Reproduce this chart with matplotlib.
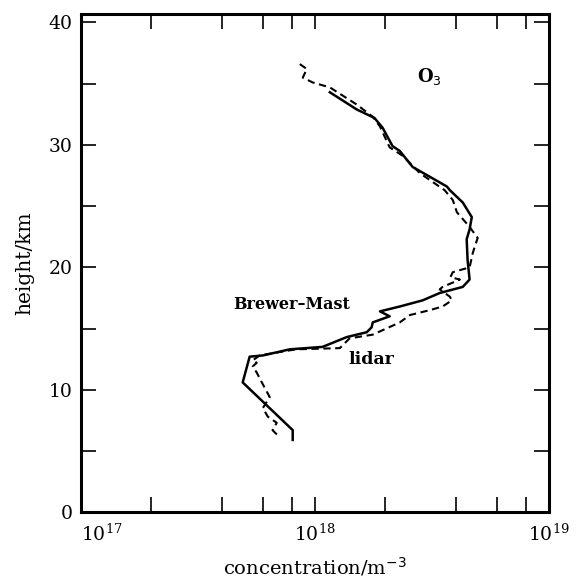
import numpy as np
import matplotlib.pyplot as plt
from matplotlib.ticker import FixedLocator, NullFormatter

#------------------------------------------------------------------------------#

# Brewer-Mast sonde profile (concentration in m^-3, height in km)
bm_conc = [1.16e18, 1.51e18, 1.80e18, 1.95e18, 2.15e18, 2.31e18, 2.62e18,
           3.67e18, 3.78e18, 4.29e18, 4.69e18, 4.59e18, 4.46e18, 4.50e18,
           4.59e18, 4.29e18, 3.42e18, 2.89e18, 2.31e18, 1.90e18, 2.09e18,
           1.77e18, 1.75e18, 1.67e18, 1.37e18, 1.08e18, 7.82e17, 6.00e17,
           5.27e17, 4.92e17, 8.05e17, 8.05e17]
bm_height = [34.3, 32.9, 32.2, 31.4, 29.9, 29.5, 28.2,
             26.6, 26.3, 25.3, 24.1, 23.1, 22.3, 20.6,
             19.0, 18.4, 17.9, 17.3, 16.8, 16.4, 16.0,
             15.5, 15.1, 14.7, 14.3, 13.5, 13.3, 12.8,
             12.7, 10.6, 6.7, 5.9]

# lidar profile
li_conc = [8.63e17, 9.25e17, 8.89e17, 9.80e17, 1.16e18, 1.51e18, 1.77e18,
           1.90e18, 2.09e18, 2.38e18, 2.81e18, 3.59e18, 3.89e18, 4.05e18,
           4.59e18, 4.97e18, 4.74e18, 4.59e18, 3.89e18, 3.80e18, 4.17e18,
           3.52e18, 3.42e18, 3.78e18, 3.85e18, 3.52e18, 3.10e18, 2.55e18,
           2.31e18, 1.77e18, 1.41e18, 1.28e18, 8.30e17, 5.82e17, 5.43e17,
           5.65e17, 5.43e17, 5.65e17, 5.94e17, 6.42e17, 6.00e17, 6.30e17,
           6.88e17, 6.60e17, 7.09e17]
li_height = [36.6, 36.2, 35.5, 35.1, 34.7, 33.3, 32.3,
             31.5, 29.8, 29.1, 27.7, 26.3, 25.5, 24.5,
             23.3, 22.4, 21.2, 20.0, 19.6, 19.2, 19.0,
             18.4, 18.2, 17.6, 17.3, 16.8, 16.5, 16.1,
             15.5, 14.5, 14.2, 13.4, 13.3, 12.8, 12.4,
             12.2, 11.9, 11.4, 10.6, 9.4, 8.5, 7.8,
             7.3, 6.7, 6.1]

#------------------------------------------------------------------------------#

plt.rcParams['font.family'] = 'DejaVu Serif'

fig = plt.figure(figsize = (5.77, 5.80), dpi = 100)
ax = fig.add_axes([0.140, 0.117, 0.811, 0.859])

ax.plot(bm_conc, bm_height, color = 'black', lw = 1.8, solid_joinstyle = 'round')
ax.plot(li_conc, li_height, color = 'black', lw = 1.5, dashes = (3.5, 2.2))

ax.set_xscale('log')
ax.set_xlim(1e17, 1e19)
ax.set_ylim(0, 40.7)

ax.xaxis.set_major_locator(FixedLocator([1e17, 1e18, 1e19]))
ax.xaxis.set_minor_locator(FixedLocator([2e17, 4e17, 6e17, 8e17,
                                         2e18, 4e18, 6e18, 8e18]))
ax.xaxis.set_minor_formatter(NullFormatter())
ax.yaxis.set_major_locator(FixedLocator([0, 10, 20, 30, 40]))
ax.yaxis.set_minor_locator(FixedLocator([5, 15, 25, 35]))

ax.tick_params(which = 'both', direction = 'in', top = True, right = True,
               length = 11, width = 1.2, labelsize = 13.5)
ax.tick_params(axis = 'x', pad = 8)
ax.tick_params(axis = 'y', pad = 6)

fig.canvas.draw()
xl = ax.get_xticklabels()
xl[0].set_horizontalalignment('left')

for sp in ax.spines.values():
    sp.set_linewidth(2.2)

ax.set_xlabel('concentration/m$^{-3}$', fontsize = 14, labelpad = 8)
ax.set_ylabel('height/km', fontsize = 14.5, labelpad = 10)

ax.text(3.1e18, 35.6, 'O$_3$', fontsize = 13, fontweight = 'bold',
        ha = 'center', va = 'center')
ax.text(8.0e17, 17.0, 'Brewer\u2013Mast', fontsize = 11.5, fontweight = 'bold',
        ha = 'center', va = 'center')
ax.text(1.75e18, 12.5, 'lidar', fontsize = 12.5, fontweight = 'bold',
        ha = 'center', va = 'center')

plt.savefig('out.png', dpi = 100)
